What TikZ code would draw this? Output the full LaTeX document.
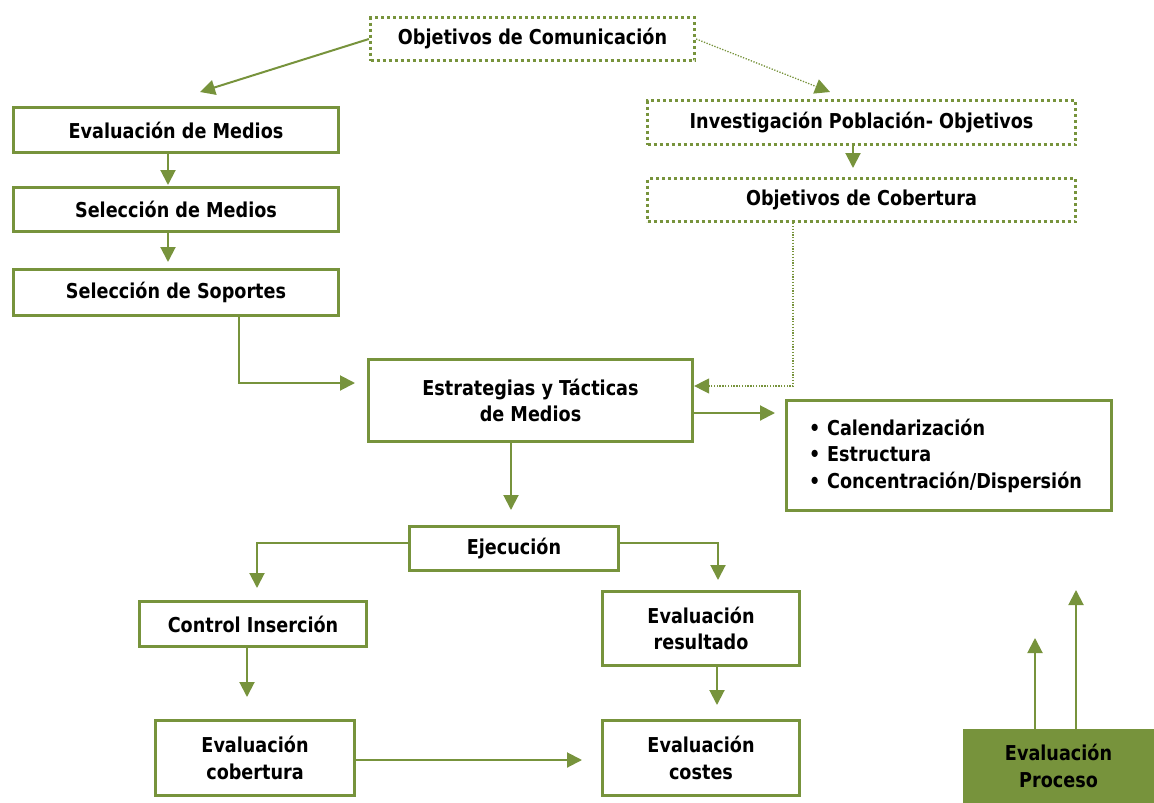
\documentclass[tikz,border=0pt]{standalone}
\usepackage{fontspec}
\setmainfont{DejaVu Sans}[FakeStretch=0.86]
\usetikzlibrary{arrows.meta}
\definecolor{og}{HTML}{77933C}
\begin{document}
\begin{tikzpicture}[x=1pt,y=-1pt,
 every node/.style={font=\bfseries\fontsize{20.5}{26.5}\selectfont, text=black},
 box/.style={draw=og, line width=3.2pt, fill=white, inner sep=0pt, align=center},
 dbox/.style={box, dash pattern=on 3pt off 3pt},
 arr/.style={draw=og, line width=2pt, -{Triangle[length=15pt,width=15pt]}},
 darr/.style={arr, line width=1.3pt, dash pattern=on 1.3pt off 1.5pt},
]
\useasboundingbox (0,0) rectangle (1154,803);
% nodes
\node[dbox, minimum width=324pt, minimum height=43pt] (ObjCom) at (532.5,39) {Objetivos de Comunicación};
\node[box, minimum width=325pt, minimum height=45pt] (EvalMed) at (176,130) {Evaluación de Medios};
\node[box, minimum width=325pt, minimum height=44pt] (SelMed) at (176,209.5) {Selección de Medios};
\node[box, minimum width=325pt, minimum height=46pt] (SelSop) at (176,292.5) {Selección de Soportes};
\node[dbox, minimum width=428pt, minimum height=44pt] (InvPob) at (861.5,122.5) {Investigación Población- Objetivos};
\node[dbox, minimum width=428pt, minimum height=43pt] (ObjCob) at (861.5,200) {Objetivos de Cobertura};
\node[box, minimum width=324pt, minimum height=82pt] (Estr) at (530.5,400.5) {Estrategias y Tácticas\\de Medios};
\node[box, minimum width=325pt, minimum height=110pt, align=left, text width=280pt, inner xsep=22.5pt] (Bul) at (949,455.5)
  {\textbullet\ Calendarización\\\textbullet\ Estructura\\\textbullet\ Concentración/Dispersión};
\node[box, minimum width=209pt, minimum height=44pt] (Ejec) at (514,548.5) {Ejecución};
\node[box, minimum width=227pt, minimum height=45pt] (Ctrl) at (253,624) {Control Inserción};
\node[box, minimum width=197pt, minimum height=74pt] (EvRes) at (701,628.5) {Evaluación\\resultado};
\node[box, minimum width=199pt, minimum height=75pt] (EvCob) at (255,758) {Evaluación\\cobertura};
\node[box, minimum width=197pt, minimum height=75pt] (EvCos) at (701,758) {Evaluación\\costes};
\node[fill=og, inner sep=0pt, align=center, minimum width=191pt, minimum height=74pt] (Proc) at (1058.5,766) {Evaluación\\Proceso};
% coordinates
\coordinate (t1) at (200,92);
\coordinate (t2) at (830,92);
\coordinate (c3) at (168,185);
\coordinate (c4) at (168,262);
\coordinate (b5) at (239,383);
\coordinate (c5) at (355,383);
\coordinate (b6) at (793,386);
\coordinate (c7) at (775,413);
\coordinate (c8) at (511,510);
\coordinate (b9) at (257,543);
\coordinate (c9) at (257,588);
\coordinate (b10) at (718,543);
\coordinate (c10) at (718,580);
\coordinate (c11) at (247,697);
\coordinate (c12) at (582,760);
\coordinate (c13) at (717,705);
\coordinate (c14) at (1035,638);
\coordinate (c15) at (1076,590);
\coordinate (c16) at (853,168);
% connectors
\draw[arr] (ObjCom.west) -- (t1);
\draw[darr] (ObjCom.east) -- (t2);
\draw[arr] (InvPob.south -| c16) -- (c16);
\draw[arr] (EvalMed.south -| c3) -- (c3);
\draw[arr] (SelMed.south -| c4) -- (c4);
\draw[arr] (SelSop.south -| b5) |- (c5);
\draw[darr] (ObjCob.south -| b6) |- (Estr.east |- b6);
\draw[arr] (Estr.east |- c7) -- (c7);
\draw[arr] (Estr.south -| c8) -- (c8);
\draw[arr] (Ejec.west |- b9) -| (c9);
\draw[arr] (Ejec.east |- b10) -| (c10);
\draw[arr] (Ctrl.south -| c11) -- (c11);
\draw[arr] (EvCob.east |- c12) -- (c12);
\draw[arr] (EvRes.south -| c13) -- (c13);
\draw[arr] (Proc.north -| c14) -- (c14);
\draw[arr] (Proc.north -| c15) -- (c15);
\end{tikzpicture}
\end{document}
